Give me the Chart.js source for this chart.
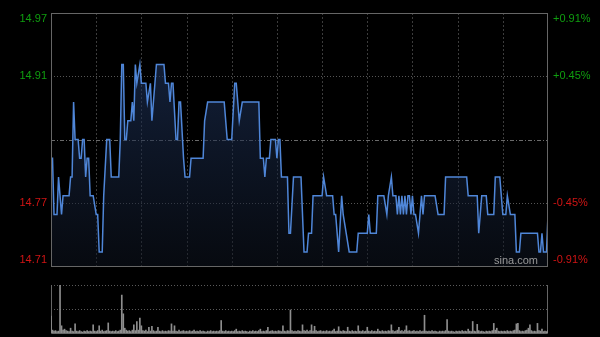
<!DOCTYPE html>
<html>
<head>
<meta charset="utf-8">
<script src="https://cdn.jsdelivr.net/npm/chart.js@4.4.1/dist/chart.umd.min.js"></script>
<style>
    html, body { margin: 0; padding: 0; background: #000; }
    #wrap { position: relative; width: 600px; height: 337px; overflow: hidden; background: #000; }
    #priceChart { position: absolute; left: 0; top: 0; }
    #volumeChart { position: absolute; left: 0; top: 277px; }
</style>
</head>
<body>
<div id="wrap">
    <canvas id="priceChart" width="600" height="275"></canvas>
    <canvas id="volumeChart" width="600" height="60"></canvas>
</div>
<script>
// Axis ticks (price / percent from previous close 14.84)
const priceTickValues = [14.975, 14.9075, 14.84, 14.7725, 14.705];
const priceTickLabels = ['14.97', '14.91', '', '14.77', '14.71'];
const percentTickLabels = ['+0.91%', '+0.45%', '', '-0.45%', '-0.91%'];
const gridMinutes = [30, 60, 90, 120, 150, 180, 210, 240, 270, 300];

// Intraday price, minute index -> price
const priceMinutes = [
    0, 1, 2, 4, 5, 7, 8, 12, 13, 14, 15, 16, 18, 19, 20, 21, 22, 23, 24, 25,
    26, 28, 30, 31, 32, 34, 35, 37, 39, 40, 45, 46, 47, 48, 49, 50, 51, 53, 54, 55,
    56, 57, 59, 60, 63, 64, 66, 67, 69, 70, 75, 76, 78, 79, 80, 81, 83, 84, 85, 86,
    88, 89, 92, 93, 101, 102, 104, 115, 117, 120, 122, 123, 125, 127, 138, 139, 141, 142, 143, 145,
    146, 149, 150, 151, 152, 153, 157, 158, 159, 161, 166, 168, 170, 171, 173, 174, 180, 181, 183, 187,
    188, 189, 191, 193, 194, 196, 198, 203, 204, 210, 211, 212, 216, 217, 221, 223, 224, 226, 227, 229,
    230, 231, 232, 233, 234, 235, 236, 237, 238, 239, 240, 241, 242, 244, 245, 246, 247, 248, 255, 257,
    261, 262, 276, 277, 283, 284, 285, 286, 289, 290, 294, 295, 298, 300, 302, 303, 305, 308, 309, 311,
    312, 323, 324, 325, 326, 327, 329, 330
];
const priceValues = [
    14.82, 14.82, 14.76, 14.76, 14.80, 14.76, 14.78, 14.78, 14.80, 14.80, 14.88, 14.84, 14.84, 14.82, 14.82, 14.84, 14.84, 14.80, 14.82, 14.82,
    14.78, 14.78, 14.76, 14.76, 14.72, 14.72, 14.78, 14.84, 14.84, 14.80, 14.80, 14.84, 14.92, 14.92, 14.84, 14.84, 14.86, 14.86, 14.88, 14.86,
    14.92, 14.90, 14.92, 14.90, 14.90, 14.88, 14.90, 14.86, 14.90, 14.92, 14.92, 14.90, 14.90, 14.88, 14.90, 14.90, 14.84, 14.84, 14.88, 14.88,
    14.82, 14.80, 14.80, 14.82, 14.82, 14.86, 14.88, 14.88, 14.84, 14.84, 14.90, 14.90, 14.86, 14.88, 14.88, 14.82, 14.82, 14.80, 14.82, 14.82,
    14.84, 14.84, 14.82, 14.84, 14.84, 14.80, 14.80, 14.74, 14.74, 14.80, 14.80, 14.72, 14.72, 14.74, 14.74, 14.78, 14.78, 14.80, 14.78, 14.78,
    14.76, 14.76, 14.72, 14.78, 14.76, 14.74, 14.72, 14.72, 14.74, 14.74, 14.76, 14.74, 14.74, 14.78, 14.78, 14.76, 14.78, 14.80, 14.78, 14.78,
    14.76, 14.78, 14.76, 14.78, 14.76, 14.78, 14.76, 14.78, 14.78, 14.76, 14.78, 14.76, 14.76, 14.74, 14.76, 14.78, 14.76, 14.78, 14.78, 14.76,
    14.76, 14.80, 14.80, 14.78, 14.78, 14.74, 14.76, 14.78, 14.78, 14.76, 14.76, 14.80, 14.80, 14.76, 14.76, 14.78, 14.76, 14.76, 14.72, 14.72,
    14.74, 14.74, 14.72, 14.72, 14.74, 14.72, 14.72, 14.76
];

// Volume per minute (relative, 100 = panel top)
const volumeValues = [
    35, 6, 4, 5, 3, 4, 100, 15, 6, 8, 5, 4, 3, 10, 4, 3, 19, 4, 3, 5, 3, 2, 4, 3, 5, 3, 4, 3, 17, 4,
    3, 5, 15, 4, 6, 3, 4, 5, 21, 4, 3, 4, 3, 5, 3, 4, 6, 79, 40, 10, 6, 4, 5, 3, 6, 17, 5, 24, 6, 31,
    15, 5, 4, 6, 3, 12, 4, 14, 5, 3, 4, 12, 4, 3, 5, 3, 4, 3, 5, 4, 19, 4, 15, 4, 3, 6, 3, 4, 5, 3,
    4, 3, 5, 3, 4, 6, 3, 4, 3, 5, 3, 4, 3, 2, 4, 3, 5, 3, 4, 3, 4, 3, 5, 26, 4, 3, 5, 3, 4, 3,
    4, 3, 5, 8, 3, 4, 3, 5, 3, 4, 3, 2, 4, 3, 5, 3, 4, 3, 5, 8, 3, 4, 3, 5, 12, 3, 4, 5, 3, 4,
    3, 5, 4, 3, 15, 4, 3, 5, 4, 48, 5, 3, 4, 3, 5, 4, 3, 17, 5, 4, 6, 3, 5, 17, 4, 14, 5, 3, 4, 5,
    3, 4, 3, 5, 3, 4, 3, 5, 8, 3, 4, 13, 4, 3, 5, 4, 3, 12, 4, 3, 5, 3, 4, 3, 15, 4, 3, 5, 3, 4,
    12, 4, 3, 5, 3, 4, 3, 8, 4, 3, 5, 3, 4, 3, 5, 4, 17, 5, 3, 4, 6, 12, 4, 5, 3, 6, 15, 4, 5, 3,
    4, 5, 3, 4, 3, 5, 3, 4, 37, 4, 3, 4, 3, 5, 3, 4, 3, 2, 4, 3, 4, 3, 5, 28, 4, 3, 4, 3, 2, 4,
    3, 4, 3, 5, 3, 4, 3, 8, 4, 3, 24, 4, 3, 18, 5, 3, 4, 3, 2, 4, 3, 4, 3, 5, 20, 6, 10, 4, 3, 4,
    3, 4, 3, 5, 3, 4, 3, 5, 6, 19, 20, 5, 3, 4, 3, 5, 6, 10, 17, 5, 3, 4, 3, 20, 5, 4, 8, 3, 4, 3,
    5
];

const lastMinute = 330;

// Grid and frame of the price panel
const priceGridPlugin = {
    id: 'priceGrid',
    beforeDatasetsDraw(chart) {
        const ctx = chart.ctx;
        const area = chart.chartArea;
        const x = chart.scales.x;
        const y = chart.scales.y;
        ctx.save();
        ctx.lineWidth = 1;

        ctx.strokeStyle = '#3c3c3c';
        ctx.setLineDash([2, 2]);
        gridMinutes.forEach(function(m) {
            const px = Math.round(x.getPixelForValue(m)) + 0.5;
            ctx.beginPath();
            ctx.moveTo(px, area.top);
            ctx.lineTo(px, area.bottom);
            ctx.stroke();
        });

        priceTickValues.forEach(function(v, i) {
            if (i === 0 || i === priceTickValues.length - 1) return;
            const py = Math.round(y.getPixelForValue(v)) + 0.5;
            if (i === 2) {
                ctx.strokeStyle = '#6a6a6a';
                ctx.setLineDash([4, 2, 1, 2]);
            } else {
                ctx.strokeStyle = '#555555';
                ctx.setLineDash([1, 2]);
            }
            ctx.beginPath();
            ctx.moveTo(area.left, py);
            ctx.lineTo(area.right, py);
            ctx.stroke();
        });
        ctx.restore();
    },
    afterDraw(chart) {
        const ctx = chart.ctx;
        const area = chart.chartArea;
        const y = chart.scales.y;
        ctx.save();
        ctx.strokeStyle = '#666666';
        ctx.lineWidth = 1;
        ctx.setLineDash([]);
        ctx.strokeRect(Math.round(area.left) + 0.5, Math.round(area.top) + 0.5,
            Math.round(area.right - area.left) - 1, Math.round(area.bottom - area.top));

        ctx.font = '11px "Liberation Sans", Arial, sans-serif';
        ctx.textBaseline = 'middle';
        priceTickValues.forEach(function(v, i) {
            if (!priceTickLabels[i]) return;
            let py = y.getPixelForValue(v);
            py = Math.min(Math.max(py, area.top + 6), area.bottom - 6);
            ctx.fillStyle = v > 14.84 ? '#0f9e0f' : '#d01414';
            ctx.textAlign = 'right';
            ctx.fillText(priceTickLabels[i], area.left - 4, py);
            ctx.textAlign = 'left';
            ctx.fillText(percentTickLabels[i], area.right + 5, py);
        });

        ctx.fillStyle = '#9a9a9a';
        ctx.textAlign = 'right';
        ctx.fillText('sina.com', area.right - 10, area.bottom - 5);
        ctx.restore();
    }
};

// Grid and frame of the volume panel
const volumeGridPlugin = {
    id: 'volumeGrid',
    beforeDatasetsDraw(chart) {
        const ctx = chart.ctx;
        const area = chart.chartArea;
        const y = chart.scales.y;
        ctx.save();
        ctx.lineWidth = 1;
        ctx.strokeStyle = '#5a5a5a';
        ctx.setLineDash([1, 2]);
        [100, 50].forEach(function(v) {
            const py = Math.round(y.getPixelForValue(v)) + 0.5;
            ctx.beginPath();
            ctx.moveTo(area.left, py);
            ctx.lineTo(area.right, py);
            ctx.stroke();
        });
        ctx.setLineDash([]);
        ctx.strokeStyle = '#666666';
        ctx.beginPath();
        ctx.moveTo(Math.round(area.left) + 0.5, area.top);
        ctx.lineTo(Math.round(area.left) + 0.5, area.bottom + 0.5);
        ctx.lineTo(Math.round(area.right) - 0.5, area.bottom + 0.5);
        ctx.lineTo(Math.round(area.right) - 0.5, area.top);
        ctx.stroke();
        ctx.restore();
    }
};

function initPriceChart() {
    const ctx = document.getElementById('priceChart');
    const points = priceMinutes.map(function(m, i) {
        return { x: m, y: priceValues[i] };
    });

    new Chart(ctx, {
        type: 'line',
        data: {
            datasets: [{
                data: points,
                borderColor: '#4f86d8',
                borderWidth: 1.5,
                pointRadius: 0,
                tension: 0,
                fill: 'start',
                backgroundColor: function(context) {
                    const area = context.chart.chartArea;
                    if (!area) return 'rgba(20,35,60,0.5)';
                    const g = context.chart.ctx.createLinearGradient(0, area.top, 0, area.bottom);
                    g.addColorStop(0, 'rgba(36, 62, 112, 0.6)');
                    g.addColorStop(1, 'rgba(14, 20, 32, 0.5)');
                    return g;
                }
            }]
        },
        options: {
            responsive: false,
            animation: false,
            devicePixelRatio: 1,
            layout: { padding: { left: 51, right: 52, top: 13, bottom: 9 } },
            plugins: { legend: { display: false }, tooltip: { enabled: false } },
            scales: {
                x: { type: 'linear', min: 0, max: lastMinute, display: false },
                y: { min: priceTickValues[4], max: priceTickValues[0], display: false }
            }
        },
        plugins: [priceGridPlugin]
    });
}

function initVolumeChart() {
    const ctx = document.getElementById('volumeChart');
    const bars = volumeValues.map(function(v, i) {
        return { x: i, y: v };
    });

    new Chart(ctx, {
        type: 'bar',
        data: {
            datasets: [{
                data: bars,
                backgroundColor: '#8e8e8e',
                barThickness: 1,
                borderWidth: 0
            }]
        },
        options: {
            responsive: false,
            animation: false,
            devicePixelRatio: 1,
            layout: { padding: { left: 51, right: 52, top: 8, bottom: 4 } },
            plugins: { legend: { display: false }, tooltip: { enabled: false } },
            scales: {
                x: { type: 'linear', min: 0, max: lastMinute, offset: false, display: false },
                y: { min: 0, max: 100, display: false }
            }
        },
        plugins: [volumeGridPlugin]
    });
}

initPriceChart();
initVolumeChart();
</script>
</body>
</html>
